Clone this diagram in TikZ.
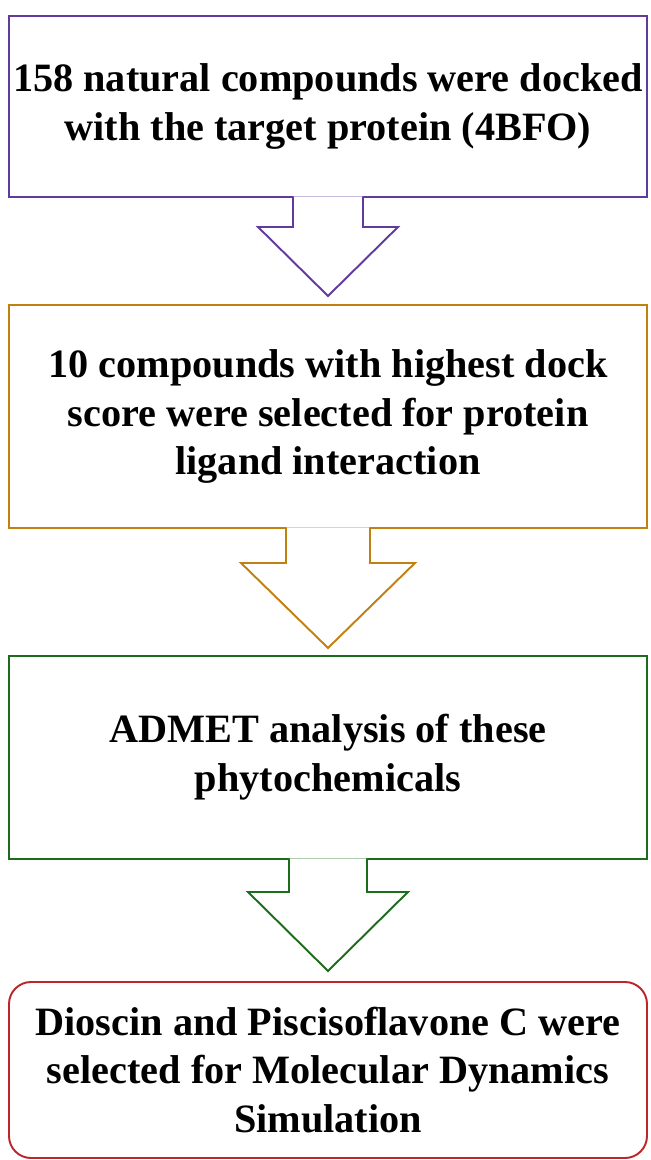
\documentclass[tikz,border=0pt]{standalone}
\usepackage{fontspec}
\setmainfont{Liberation Serif}
\usepackage{xcolor}
\usetikzlibrary{calc, positioning}

\definecolor{cpurple}{RGB}{96,58,156}
\definecolor{corange}{RGB}{194,128,16}
\definecolor{cgreen}{RGB}{28,108,28}
\definecolor{cred}{RGB}{188,38,40}

\begin{document}
\begin{tikzpicture}[
  x=0.2mm, y=-0.2mm,
  every node/.style={font=\fontsize{22.9}{27.8}\selectfont\bfseries},
  box/.style={draw, line width=1.1pt, minimum width=127.6mm, inner sep=1pt,
              align=center, fill=white},
  blk/.style={line width=1.1pt, fill=white},
]
  \useasboundingbox (0,0) rectangle (651,1160);

  % Boxes
  \node[box, draw=cpurple, minimum height=36.2mm] (dock) at (328,106.5)
       {158 natural compounds were docked\\with the target protein (4BFO)};
  \node[box, draw=corange, minimum height=44.6mm] (sel) at (328,416.5)
       {10 compounds with highest dock\\score were selected for protein\\ligand interaction};
  \node[box, draw=cgreen, minimum height=40.6mm] (admet) at (328,757.5)
       {ADMET analysis of these\\phytochemicals};
  \node[box, draw=cred, rounded corners=4.4mm, minimum height=35.2mm] (md) at (328,1070)
       {Dioscin and Piscisoflavone C were\\selected for Molecular Dynamics\\Simulation};

  % Block arrows: from/colour/shaft half/head half/shaft length/head length
  \foreach \a/\c/\s/\h/\l/\t in {dock/cpurple/35/70/29/69,
                                 sel/corange/42/87/34/85,
                                 admet/cgreen/39/80/32/79} {
    \draw[blk, draw=\c] ($(\a.south)+(-\s,-1.5)$) -- ++(0,\l+1.5) -- ++(\s-\h,0)
      -- ($(\a.south)+(0,\l+\t)$) -- ($(\a.south)+(\h,\l)$) -- ++(\s-\h,0)
      -- ++(0,-\l-1.5);
  }
\end{tikzpicture}
\end{document}
